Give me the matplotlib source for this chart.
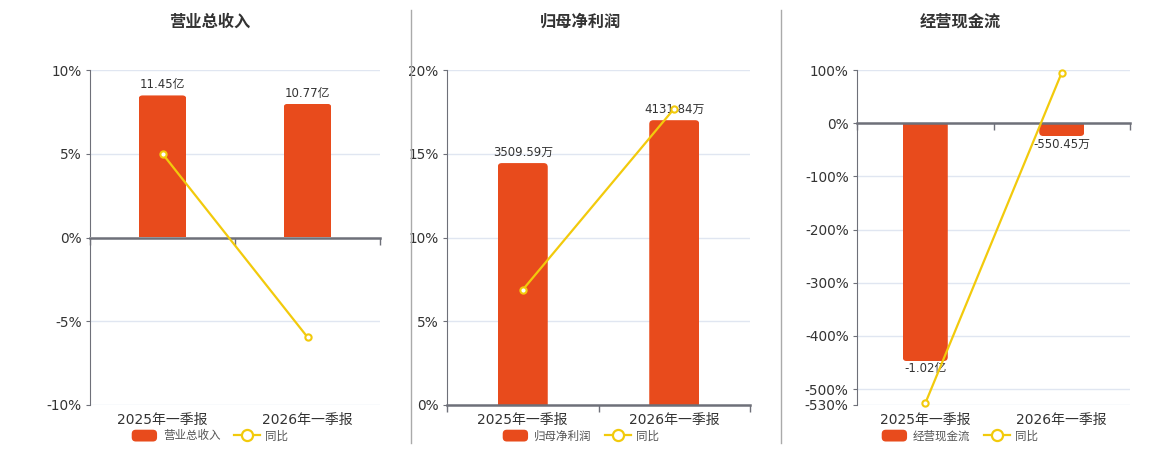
import matplotlib
matplotlib.use('Agg')
import matplotlib.pyplot as plt
from matplotlib.patches import FancyBboxPatch, Patch
from matplotlib.lines import Line2D
from matplotlib.legend_handler import HandlerPatch

plt.rcParams['font.family'] = ['DejaVu Sans', 'Noto Sans CJK SC']

categories = ['2025年一季报', '2026年一季报']
titles = ['营业总收入', '归母净利润', '经营现金流']

revenue = [11.45, 10.77]          # 亿
revenue_labels = ['11.45亿', '10.77亿']
revenue_yoy = [5.0, -5.95]

profit = [3509.59, 4131.84]       # 万
profit_labels = ['3509.59万', '4131.84万']
profit_yoy = [6.88, 17.7]

cash = [-10200.0, -550.45]        # 万
cash_labels = ['-1.02亿', '-550.45万']
cash_yoy = [-527.0, 95.0]

pct_ticks = [[-10, -5, 0, 5, 10],
             [0, 5, 10, 15, 20],
             [-530, -500, -400, -300, -200, -100, 0, 100]]

BAR = '#E84B1C'
LINE = '#F2CA0C'
AXIS = '#6E7079'
GRID = '#E0E6F1'
TXT = '#333333'

W, H = 1160, 450
fig = plt.figure(figsize=(W / 100, H / 100), dpi=100)

# pixel boxes of the plotting areas (left, right), common top/bottom
boxes = [(90, 380), (447, 750), (857, 1130)]
top_px, bot_px = 70, 405
centers = [210, 581, 960]
bar_lims = [(-13.5, 13.5), (0, 4860), (-12084, 2280)]


def rounded_bars(ax, values, width, r_px):
    pos = ax.get_position()
    w_px = pos.width * W
    h_px = pos.height * H
    x0, x1 = ax.get_xlim()
    y0, y1 = ax.get_ylim()
    rx = r_px * (x1 - x0) / w_px
    ry = r_px * (y1 - y0) / h_px
    bars = ax.bar(range(len(values)), values, width=width, color='none', edgecolor='none')
    for b, v in zip(bars, values):
        # extend past the baseline so only the far end shows rounded corners
        if v >= 0:
            y, h = -2 * ry, v + 2 * ry
        else:
            y, h = v, -v + 2 * ry
        p = FancyBboxPatch((b.get_x(), y), width, h,
                           boxstyle=f'round,pad=0,rounding_size={rx}',
                           mutation_aspect=ry / rx, fc=BAR, ec='none')
        ax.add_patch(p)
        p.set_clip_path(b)


def legend_box(legend, orig_handle, xdescent, ydescent, width, height, fontsize):
    return FancyBboxPatch((-xdescent, -ydescent), width, height,
                          boxstyle='round,pad=0,rounding_size=3')


panels = [(revenue, revenue_labels, revenue_yoy),
          (profit, profit_labels, profit_yoy),
          (cash, cash_labels, cash_yoy)]

for k, (vals, labels, yoy) in enumerate(panels):
    l, r = boxes[k]
    rect = [l / W, 1 - bot_px / H, (r - l) / W, (bot_px - top_px) / H]
    ticks = pct_ticks[k]
    lo, hi = min(ticks), max(ticks)

    ax = fig.add_axes(rect)
    ax.set_xlim(-0.5, 1.5)
    ax.set_ylim(lo, hi)
    for s in ['top', 'right', 'bottom']:
        ax.spines[s].set_visible(False)
    ax.spines['left'].set_color(AXIS)
    ax.set_yticks(ticks, [f'{t}%' for t in ticks])
    ax.set_xticks([0, 1], categories)
    ax.tick_params(axis='y', length=3, color=AXIS, labelcolor=TXT, labelsize=9.8, pad=3)
    ax.tick_params(axis='x', length=0, labelcolor=TXT, labelsize=10, pad=6)
    ax.yaxis.grid(True, color=GRID, lw=1)
    ax.set_axisbelow(True)

    axb = ax.twinx()
    axb.set_ylim(*bar_lims[k])
    axb.axis('off')
    rounded_bars(axb, vals, 0.33, 4)
    for i, (v, t) in enumerate(zip(vals, labels)):
        if v >= 0:
            axb.annotate(t, (i, v), xytext=(0, 3), textcoords='offset points',
                         ha='center', va='bottom', fontsize=8.5, color=TXT)
        else:
            axb.annotate(t, (i, v), xytext=(0, -1), textcoords='offset points',
                         ha='center', va='top', fontsize=8.5, color=TXT)

    axl = ax.twinx()
    axl.set_ylim(lo, hi)
    axl.axis('off')
    axl.plot(range(len(yoy)), yoy, color=LINE, lw=1.6, marker='o', ms=4.5,
             mfc='white', mec=LINE, mew=1.5, clip_on=False)

    sec = axl.secondary_xaxis((0 - lo) / (hi - lo))
    sec.set_alignment('bottom')
    sec.set_xticks([-0.5, 0.5, 1.5])
    sec.tick_params(axis='x', length=5, width=1, color=AXIS, labelbottom=False, labeltop=False)
    sec.spines['bottom'].set_color(AXIS)
    sec.spines['bottom'].set_linewidth(1.8)

    fig.text(centers[k] / W, 1 - 22 / H, titles[k], ha='center', va='center',
             fontsize=11.7, fontweight='bold', color=TXT)

    handles = [Patch(facecolor=BAR, edgecolor='none'),
               Line2D([], [], color=LINE, lw=1.6, marker='o', ms=8, mfc='white', mec=LINE, mew=1.6)]
    ax.legend(handles, [titles[k], '同比'], loc='center', ncol=2, frameon=False,
              bbox_to_anchor=(centers[k] / W, 1 - 436 / H), bbox_transform=fig.transFigure,
              fontsize=8.3, labelcolor='#555555', handlelength=2.2, handleheight=1.2,
              handletextpad=0.5, columnspacing=1.2, borderpad=0,
              handler_map={Patch: HandlerPatch(patch_func=legend_box)})

for x in [410.5, 780.5]:
    fig.add_artist(Line2D([x / W, x / W], [1 - 10 / H, 1 - 443 / H],
                          transform=fig.transFigure, color='#AAAAAA', lw=1))

fig.savefig('out.png', dpi=100)
